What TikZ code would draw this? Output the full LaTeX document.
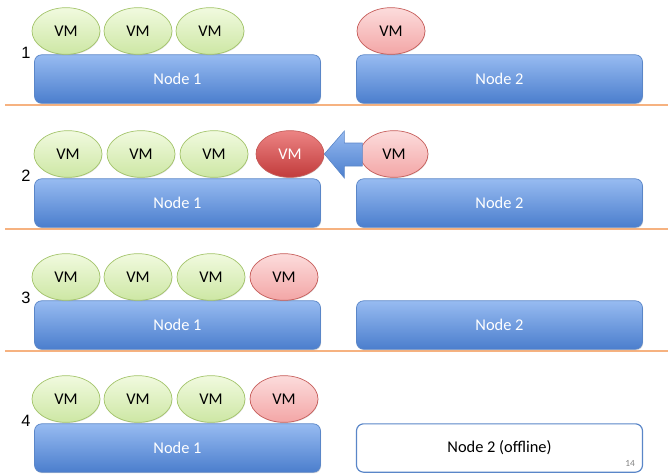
\documentclass[tikz,border=0pt]{standalone}
\usepackage{fontspec}
\setmainfont{Carlito}
\newfontfamily\rowfont{Liberation Sans}
\usetikzlibrary{shapes,shadows}

\definecolor{hostTop}{HTML}{97BBF1}
\definecolor{hostBot}{HTML}{4B7ECD}
\definecolor{hostLine}{HTML}{5A86C8}
\definecolor{okTop}{HTML}{F1FADF}
\definecolor{okBot}{HTML}{CDE7A4}
\definecolor{okLine}{HTML}{A3C46A}
\definecolor{mvTop}{HTML}{FCDCDC}
\definecolor{mvBot}{HTML}{F3A6A6}
\definecolor{mvLine}{HTML}{C65D5A}
\definecolor{goTop}{HTML}{EC8484}
\definecolor{goBot}{HTML}{C23B3B}
\definecolor{rowrule}{RGB}{246,178,128}

\begin{document}
\begin{tikzpicture}[x=0.03cm,y=-0.03cm]
	\useasboundingbox (0,0) rectangle (668,474);
	\def \vmone{31}
	\def \hostone{79}
	\def \sepone{105}
	\def \vmtwo{154}
	\def \hosttwo{203}
	\def \septwo{229}
	\def \vmthree{277}
	\def \hostthree{325}
	\def \septhree{351}
	\def \vmfour{399}
	\def \hostfour{448}

	\tikzstyle{host}=[rectangle,rounded corners=6pt,draw=hostLine,line width=0.6pt,top color=hostTop,bottom color=hostBot,text=white,font=\fontsize{14}{16}\selectfont,minimum width=8.58cm,minimum height=1.45cm,drop shadow={shadow xshift=0.5pt,shadow yshift=-0.9pt,opacity=0.3}]
	\tikzstyle{off-host}=[rectangle,rounded corners=6pt,draw=hostLine,line width=1pt,fill=white,text=black,font=\fontsize{14}{16}\selectfont,minimum width=8.58cm,minimum height=1.45cm]
	\tikzstyle{vm}=[ellipse,line width=0.6pt,inner sep=0pt,font=\fontsize{14}{16}\selectfont,minimum width=2.04cm,minimum height=1.4cm,drop shadow={shadow xshift=0.4pt,shadow yshift=-0.7pt,opacity=0.25}]
	\tikzstyle{vm-ok}=[vm,draw=okLine,top color=okTop,bottom color=okBot]
	\tikzstyle{vm-mv}=[vm,draw=mvLine,top color=mvTop,bottom color=mvBot]
	\tikzstyle{vm-go}=[vm,draw=mvLine,top color=goTop,bottom color=goBot,text=white]
	\tikzstyle{rowno}=[font=\rowfont\fontsize{14}{16}\selectfont]
	\tikzstyle{row-rule}=[color=rowrule,line width=1pt]

	% separators
	\draw[row-rule] (5,\sepone) -- (668,\sepone);
	\draw[row-rule] (5,\septwo) -- (668,\septwo);
	\draw[row-rule] (5,\septhree) -- (668,\septhree);

	% step 1
	\node[rowno]	(rn1)	at (26,53)	{1};
	\node[host]	(h11)	at (177.5,\hostone)	{Node 1};
	\node[host]	(h12)	at (499.5,\hostone)	{Node 2};
	\node[vm-ok]	(v11)	at (66,\vmone)	{VM};
	\node[vm-ok]	(v12)	at (138,\vmone)	{VM};
	\node[vm-ok]	(v13)	at (210,\vmone)	{VM};
	\node[vm-mv]	(v15)	at (391,\vmone)	{VM};

	% step 2
	\node[rowno]	(rn2)	at (26,176)	{2};
	\node[host]	(h21)	at (177.5,\hosttwo)	{Node 1};
	\node[host]	(h22)	at (499.5,\hosttwo)	{Node 2};
	\node[vm-ok]	(v21)	at (68,\vmtwo)	{VM};
	\node[vm-ok]	(v22)	at (141,\vmtwo)	{VM};
	\node[vm-ok]	(v23)	at (214,\vmtwo)	{VM};
	\node[vm-go]	(v24)	at (290,\vmtwo)	{VM};
	\node[vm-mv]	(v25)	at (394,\vmtwo)	{VM};
	% migration arrow
	\draw[draw=hostLine,line width=0.5pt,top color=hostTop,bottom color=hostBot]
		(v24.east) -- ++(20,-23) -- ++(0,12) -- ++(18,0) -- ++(0,23)
		-- ++(-18,0) -- ++(0,12) -- cycle;

	% step 3
	\node[rowno]	(rn3)	at (26,298)	{3};
	\node[host]	(h31)	at (177.5,\hostthree)	{Node 1};
	\node[host]	(h32)	at (499.5,\hostthree)	{Node 2};
	\node[vm-ok]	(v31)	at (66,\vmthree)	{VM};
	\node[vm-ok]	(v32)	at (138,\vmthree)	{VM};
	\node[vm-ok]	(v33)	at (211,\vmthree)	{VM};
	\node[vm-mv]	(v34)	at (284,\vmthree)	{VM};

	% step 4
	\node[rowno]	(rn4)	at (26,421)	{4};
	\node[host]	(h41)	at (177.5,\hostfour)	{Node 1};
	\node[off-host]	(h42)	at (499.5,\hostfour)	{Node 2 (offline)};
	\node[vm-ok]	(v41)	at (66,\vmfour)	{VM};
	\node[vm-ok]	(v42)	at (138,\vmfour)	{VM};
	\node[vm-ok]	(v43)	at (211,\vmfour)	{VM};
	\node[vm-mv]	(v44)	at (284,\vmfour)	{VM};

	\node[text=gray,font=\fontsize{8}{9}\selectfont]	(pg)	at (630,463)	{14};
\end{tikzpicture}
\end{document}
